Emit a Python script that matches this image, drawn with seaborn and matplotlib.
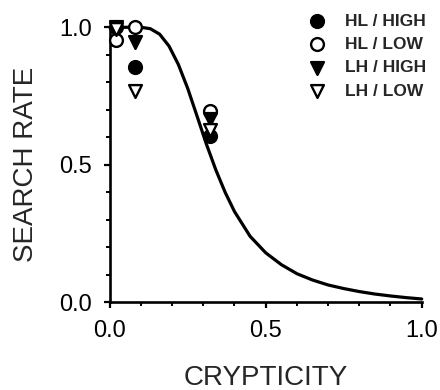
import numpy as np
import pandas as pd
import matplotlib
matplotlib.use("Agg")
import matplotlib.pyplot as plt
import seaborn as sns
from matplotlib.ticker import MultipleLocator, FormatStrFormatter

sns.set_style("ticks")
plt.rcParams['font.family'] = ['Liberation Sans', 'DejaVu Sans']

# Fitted curve
curve_x = [0.00, 0.10, 0.13, 0.16, 0.19, 0.22, 0.25, 0.28, 0.31, 0.34, 0.37, 0.40,
           0.45, 0.50, 0.55, 0.60, 0.65, 0.70, 0.75, 0.80, 0.85, 0.90, 0.95, 1.00]
curve_y = [1.000, 1.000, 0.995, 0.975, 0.932, 0.865, 0.778, 0.677, 0.575, 0.482, 0.400, 0.330,
           0.240, 0.180, 0.137, 0.104, 0.081, 0.063, 0.050, 0.039, 0.030, 0.023, 0.017, 0.012]

# Observed points
crypticity = [0.02, 0.08, 0.32]
hl_high = [1.000, 0.855, 0.605]
hl_low = [0.955, 1.000, 0.695]
lh_high = [1.000, 0.948, 0.665]
lh_low = [0.995, 0.770, 0.625]

series_labels = ["HL / HIGH", "HL / LOW", "LH / HIGH", "LH / LOW"]
series_values = [hl_high, hl_low, lh_high, lh_low]
series_markers = ["o", "o", "v", "v"]
series_faces = ["black", "white", "black", "white"]

fig = plt.figure(figsize=(4.4, 3.9), dpi=100)
ax = fig.add_axes([0.2493, 0.2249, 0.7091, 0.7051])

sns.lineplot(x=curve_x, y=curve_y, color="black", linewidth=2.3, ax=ax,
             sort=False, estimator=None, zorder=2, clip_on=False)

for i, (lab, vals, mk, fc) in enumerate(zip(series_labels, series_values,
                                            series_markers, series_faces)):
    sns.scatterplot(x=crypticity, y=vals, marker=mk, s=85, facecolor=fc,
                    edgecolor="black", linewidth=1.7, label=lab, ax=ax,
                    clip_on=False, zorder=3 + i)

ax.set_xlim(0, 1)
ax.set_ylim(0, 1)
ax.xaxis.set_major_locator(MultipleLocator(0.5))
ax.yaxis.set_major_locator(MultipleLocator(0.5))
ax.xaxis.set_minor_locator(MultipleLocator(0.1))
ax.yaxis.set_minor_locator(MultipleLocator(0.1))
ax.xaxis.set_major_formatter(FormatStrFormatter('%.1f'))
ax.yaxis.set_major_formatter(FormatStrFormatter('%.1f'))

for side in ["top", "right"]:
    ax.spines[side].set_visible(False)
for side in ["left", "bottom"]:
    ax.spines[side].set_linewidth(1.9)
    ax.spines[side].set_color("black")

ax.tick_params(which="major", direction="out", length=4, width=1.6,
               labelsize=17, pad=9, colors="black")
ax.tick_params(which="minor", direction="out", length=3, width=1.4, colors="black")

ax.set_xlabel("CRYPTICITY", fontsize=20, labelpad=16)
ax.set_ylabel("SEARCH RATE", fontsize=20, labelpad=14)

if ax.legend_ is not None:
    ax.legend_.remove()
handles, labels = ax.get_legend_handles_labels()
fig.legend(handles, labels, loc="upper left", bbox_to_anchor=(0.68, 0.988),
           frameon=False, borderpad=0, handlelength=1.0, handletextpad=1.15,
           labelspacing=0.48, prop={"weight": "bold", "size": 12.5})

fig.savefig("out.png", dpi=100)
